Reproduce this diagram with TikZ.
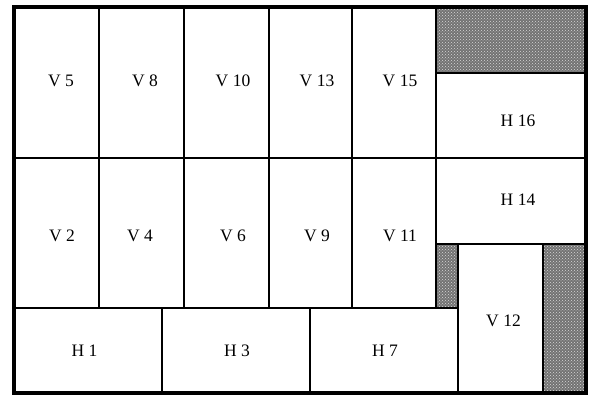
\documentclass[tikz,border=0pt]{standalone}
\usepackage{fontspec}
\setmainfont{Liberation Serif}
\usetikzlibrary{patterns}
\tikzset{
  inner/.style={line width=2.8pt},
  outer/.style={line width=4pt},
  shade/.style={fill=black!55, postaction={pattern=crosshatch dots, pattern color=white!85!black}},
  lbl/.style={font=\fontsize{17.5}{20}\selectfont, inner sep=0pt}
}
\begin{document}
\begin{tikzpicture}[x=1pt,y=-1pt]
\useasboundingbox (0,0) rectangle (592,395);
\fill[white] (0,0) rectangle (592,395);
% shaded areas
\path[shade] (436,7) rectangle (586,73);
\path[shade] (436,244) rectangle (458,308);
\path[shade] (543,244) rectangle (586,393);
% inner lines
\draw[inner] (14,158) -- (586,158);
\draw[inner] (14,308) -- (458,308);
\draw[inner] (436,73) -- (586,73);
\draw[inner] (436,244) -- (586,244);
\draw[inner] (99,7) -- (99,308);
\draw[inner] (184,7) -- (184,308);
\draw[inner] (269,7) -- (269,308);
\draw[inner] (352,7) -- (352,308);
\draw[inner] (436,7) -- (436,308);
\draw[inner] (162,308) -- (162,393);
\draw[inner] (310,308) -- (310,393);
\draw[inner] (458,244) -- (458,393);
\draw[inner] (543,244) -- (543,393);
% outer border
\draw[outer] (14,7) rectangle (586,393);
% labels
\node[lbl] (v5) at (61,81) {V 5};
\node[lbl] (v8) at (145,81) {V 8};
\node[lbl] (v10) at (233,81) {V 10};
\node[lbl] (v13) at (317,81) {V 13};
\node[lbl] (v15) at (400,81) {V 15};
\node[lbl] (h16) at (518,121) {H 16};
\node[lbl] (h14) at (518,200) {H 14};
\node[lbl] (v2) at (62,236) {V 2};
\node[lbl] (v4) at (140,236) {V 4};
\node[lbl] (v6) at (233,236) {V 6};
\node[lbl] (v9) at (317,236) {V 9};
\node[lbl] (v11) at (400,236) {V 11};
\node[lbl] (h1) at (84.5,351) {H 1};
\node[lbl] (h3) at (237,351) {H 3};
\node[lbl] (h7) at (385,351) {H 7};
\node[lbl] (v12) at (503.5,321) {V 12};
\end{tikzpicture}
\end{document}
